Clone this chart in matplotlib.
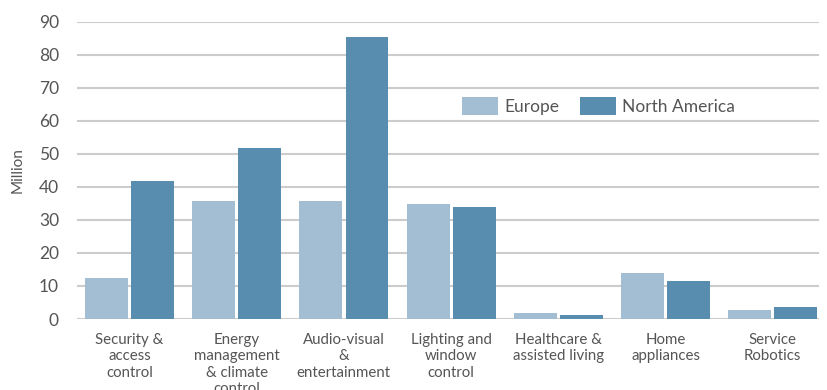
import matplotlib
matplotlib.use("Agg")
import matplotlib.pyplot as plt
import numpy as np

categories = ["Security &\naccess\ncontrol", "Energy\nmanagement\n& climate\ncontrol",
              "Audio-visual\n&\nentertainment", "Lighting and\nwindow\ncontrol",
              "Healthcare &\nassisted living", "Home\nappliances", "Service\nRobotics"]
europe = [12.4, 35.7, 35.7, 34.8, 1.8, 13.9, 2.7]
north_america = [41.8, 51.8, 85.4, 33.9, 1.2, 11.5, 3.6]
yticks = [0, 10, 20, 30, 40, 50, 60, 70, 80, 90]

plt.rcParams['font.family'] = ['Lato', 'DejaVu Sans']
text_color = '#555555'

fig = plt.figure(figsize=(8.27, 3.90), dpi=100)
ax = fig.add_axes([0.0931, 0.182, 0.897, 0.762])

x = np.arange(len(categories))
w = 0.40
off = 0.215
ax.bar(x - off, europe, w, color='#a3bdd3', label='Europe', zorder=3)
ax.bar(x + off, north_america, w, color='#588db0', label='North America', zorder=3)

ax.set_xlim(-0.49, 6.43)
ax.set_ylim(0, 90)
ax.set_yticks(yticks)
ax.yaxis.grid(True, color='#cccccc', linewidth=1.5, zorder=0)
ax.set_axisbelow(True)
for s in ax.spines.values():
    s.set_visible(False)
ax.tick_params(axis='both', length=0, colors=text_color)
ax.tick_params(axis='y', labelsize=12.5, pad=13)
ax.set_xticks(x)
ax.set_xticklabels(categories, fontsize=10.8, color=text_color, linespacing=1.22, va='top')
ax.tick_params(axis='x', pad=10)
ax.set_ylabel('Million', fontsize=11, color=text_color, labelpad=10)

leg = ax.legend(loc='center', bbox_to_anchor=(0.703, 0.716), ncol=2, frameon=False,
                fontsize=12.5, handlelength=2.07, handleheight=1.15, handletextpad=0.35,
                columnspacing=1.2, labelcolor=text_color)

fig.savefig('out.png', dpi=100)
